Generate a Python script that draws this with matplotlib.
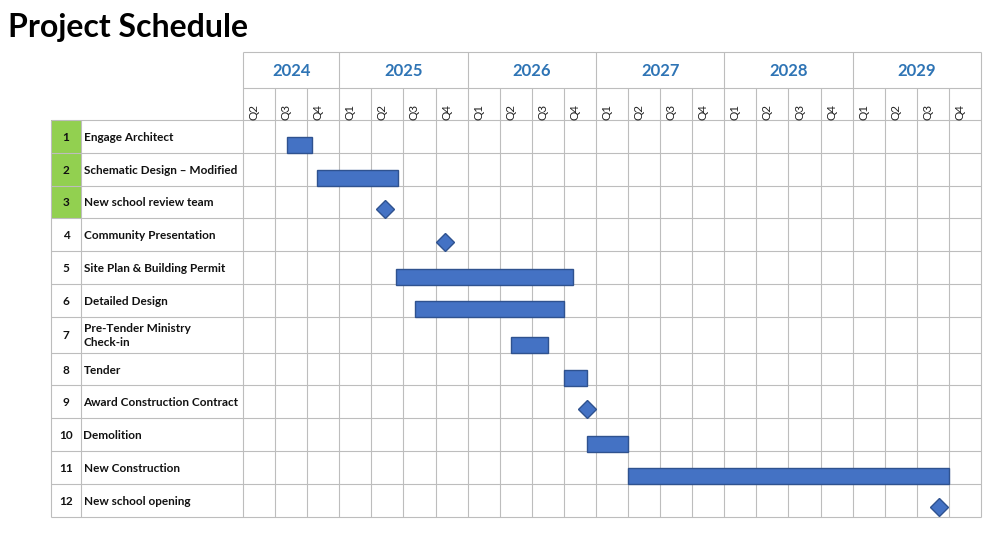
import matplotlib.pyplot as plt
from matplotlib.patches import Rectangle

plt.rcParams['font.family'] = ['Lato', 'DejaVu Sans']

# chart data
title = "Project Schedule"
years = [2024, 2025, 2026, 2027, 2028, 2029]
first_quarter = 2  # schedule starts in Q2 2024
task_ids = [1, 2, 3, 4, 5, 6, 7, 8, 9, 10, 11, 12]
tasks = [
    "Engage Architect",
    "Schematic Design – Modified",
    "New school review team",
    "Community Presentation",
    "Site Plan & Building Permit",
    "Detailed Design",
    "Pre-Tender Ministry\nCheck-in",
    "Tender",
    "Award Construction Contract",
    "Demolition",
    "New Construction",
    "New school opening",
]
# decimal years; milestones have no end
task_start = [2024.59, 2024.83, 2025.36, 2025.82, 2025.44, 2025.59,
              2026.34, 2026.75, 2026.93, 2026.93, 2027.25, 2029.67]
task_end = [2024.79, 2025.455, None, None, 2026.82, 2026.75,
            2026.63, 2026.93, None, 2027.25, 2029.75, None]
highlighted = [1, 2, 3]

# layout (pixels on a 1000x536 canvas)
W, H = 1000, 536
px_left, px_grid, px_right = 51, 243, 981
px_num = 81
y_top, y_year, y_task = 52, 88, 120
row_h = [32.8] * 12
row_h[6] = 35.8
y_bottom = y_task + sum(row_h)

bar_color = "#4472c4"
edge_color = "#2f528f"
line_color = "#bdbdbd"
year_color = "#2e74b5"
green = "#92d050"

x0 = years[0] + (first_quarter - 1) / 4
x1 = years[-1] + 1
ppy = (px_right - px_grid) / (x1 - x0)  # pixels per year
x_left = x0 - (px_grid - px_left) / ppy
x_num = x0 - (px_grid - px_num) / ppy

fig = plt.figure(figsize=(10, 5.36), dpi=100)
ax = fig.add_axes([px_left / W, 1 - y_bottom / H,
                   (px_right - px_left) / W, (y_bottom - y_top) / H])
ax.set_xlim(x_left, x1)
ax.set_ylim(y_bottom, y_top)
ax.axis("off")

fig.text(8 / W, 1 - 27 / H, title, fontsize=23, fontweight="bold",
         va="center", ha="left")

# row edges
edges = [y_task]
for h in row_h:
    edges.append(edges[-1] + h)

lw = 0.8
# green cells for highlighted tasks
for i, tid in enumerate(task_ids):
    if tid in highlighted:
        ax.add_patch(Rectangle((x_left, edges[i]), x_num - x_left, row_h[i],
                               facecolor=green, edgecolor="none", zorder=1))

# horizontal lines
ax.hlines([y_top, y_year], x0, x1, color=line_color, lw=lw, clip_on=False, zorder=2)
ax.hlines(edges, x_left, x1, color=line_color, lw=lw, clip_on=False, zorder=2)

# vertical lines: quarters and years
quarters = []
for y in years:
    q_from = first_quarter if y == years[0] else 1
    for q in range(q_from, 5):
        quarters.append((y, q))
for y, q in quarters:
    xq = y + (q - 1) / 4
    top = y_top if (q == 1 or xq == x0) else y_year
    ax.vlines(xq, top, y_bottom, color=line_color, lw=lw, clip_on=False, zorder=2)
ax.vlines(x1, y_top, y_bottom, color=line_color, lw=lw, clip_on=False, zorder=2)
ax.vlines([x_left, x_num], y_task, y_bottom, color=line_color, lw=lw,
          clip_on=False, zorder=2)

# header labels
for y in years:
    ys = max(y, x0)
    ax.text((ys + y + 1) / 2, (y_top + y_year) / 2 + 1, str(y), ha="center",
            va="center", fontsize=12, fontweight="bold", color=year_color)
for y, q in quarters:
    xc = y + (q - 1) / 4 + 0.125 - 5 / ppy
    ax.text(xc, 112, f"Q{q}", rotation=90, ha="center", va="center",
            fontsize=8.5, color="#222222")

# task table and bars
for i, (tid, name, s, e) in enumerate(zip(task_ids, tasks, task_start, task_end)):
    yc = (edges[i] + edges[i + 1]) / 2 + 1
    ax.text((x_left + x_num) / 2, yc, str(tid), ha="center", va="center",
            fontsize=8.5, fontweight="bold", color="#111111")
    ax.text(x_num + 2.5 / ppy, yc, name, ha="left", va="center",
            fontsize=8.5, fontweight="bold", color="#111111", linespacing=1.35)
    yb = edges[i + 1]
    if e is None:
        ax.plot(s, yb - 9.5, marker="D", markersize=9.4, color=bar_color,
                markeredgecolor=edge_color, markeredgewidth=1, zorder=4)
    else:
        ax.add_patch(Rectangle((s, yb - 15.5), e - s, 16, facecolor=bar_color,
                               edgecolor=edge_color, lw=1, zorder=4))

fig.savefig("out.png", dpi=100, facecolor="white")
